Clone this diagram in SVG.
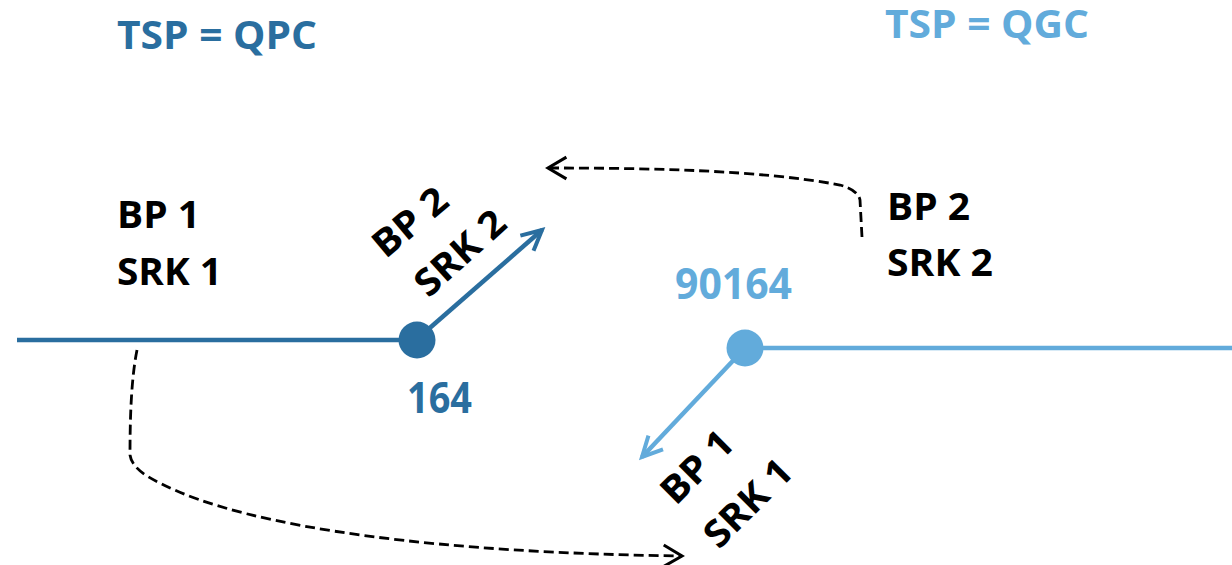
<svg xmlns="http://www.w3.org/2000/svg" width="1232" height="565" viewBox="0 0 1232 565">
<style>
.t{font-family:"Open Sans","Liberation Sans",sans-serif;font-weight:bold}
.blk{fill:#000;font-size:37.5px}
.dk{fill:#2A6E9F}
.lt{fill:#62ABDB}
.dash{fill:none;stroke:#000;stroke-width:2.8;stroke-dasharray:10 5}
</style>
<defs>
<marker id="hd" markerUnits="userSpaceOnUse" markerWidth="30" markerHeight="30" refX="24" refY="12" orient="auto" viewBox="0 0 30 24">
<polyline points="4,2 24,12 4,22" fill="none" stroke="#2A6E9F" stroke-width="4"/>
</marker>
<marker id="hl" markerUnits="userSpaceOnUse" markerWidth="30" markerHeight="30" refX="24" refY="12" orient="auto" viewBox="0 0 30 24">
<polyline points="4,2 24,12 4,22" fill="none" stroke="#62ABDB" stroke-width="4"/>
</marker>
<marker id="hb" markerUnits="userSpaceOnUse" markerWidth="26" markerHeight="26" refX="20" refY="11" orient="auto" viewBox="0 0 24 22">
<polyline points="3,1 20,11 3,21" fill="none" stroke="#000" stroke-width="2.8"/>
</marker>
</defs>
<g id="connectors">
<line x1="17" y1="340" x2="416" y2="340" stroke="#2A6E9F" stroke-width="4.5"/>
<line x1="745" y1="348" x2="1232" y2="348" stroke="#62ABDB" stroke-width="4.5"/>
<line x1="416" y1="340" x2="542" y2="230" stroke="#2A6E9F" stroke-width="4.5" marker-end="url(#hd)"/>
<line x1="745" y1="348" x2="642" y2="457" stroke="#62ABDB" stroke-width="4.5" marker-end="url(#hl)"/>
<path class="dash" d="M862,237 L860,200 Q858,190 840,185 C760,170 650,168 548,168" marker-end="url(#hb)"/>
<path class="dash" d="M137,350 C131,380 130,420 130,455 Q132,470 160,483 C250,530 450,553 682,556" marker-end="url(#hb)"/>
</g>
<g id="title-qpc"><text class="t dk" x="117" y="49" font-size="39" textLength="200" lengthAdjust="spacingAndGlyphs">TSP = QPC</text></g>
<g id="title-qgc"><text class="t lt" x="885" y="38" font-size="39" textLength="204" lengthAdjust="spacingAndGlyphs">TSP = QGC</text></g>
<g id="node-164">
<circle cx="417" cy="340" r="18.5" fill="#2A6E9F"/>
<text class="t dk" x="407" y="413" font-size="43" textLength="65" lengthAdjust="spacingAndGlyphs">164</text>
</g>
<g id="node-90164">
<circle cx="745" cy="348" r="18.5" fill="#62ABDB"/>
<text class="t lt" x="675" y="299" font-size="43" textLength="117" lengthAdjust="spacingAndGlyphs">90164</text>
</g>
<g id="label-left">
<text class="t blk" x="117" y="228" textLength="83" lengthAdjust="spacingAndGlyphs">BP 1</text>
<text class="t blk" x="117" y="285" textLength="105" lengthAdjust="spacingAndGlyphs">SRK 1</text>
</g>
<g id="label-right">
<text class="t blk" x="887" y="220" textLength="83" lengthAdjust="spacingAndGlyphs">BP 2</text>
<text class="t blk" x="887" y="276" textLength="106" lengthAdjust="spacingAndGlyphs">SRK 2</text>
</g>
<g id="label-rot-dark">
<text class="t blk" text-anchor="middle" transform="translate(410,222) rotate(-40)" y="13" textLength="86" lengthAdjust="spacingAndGlyphs">BP 2</text>
<text class="t blk" text-anchor="middle" transform="translate(460,253) rotate(-42)" y="13" textLength="108" lengthAdjust="spacingAndGlyphs">SRK 2</text>
</g>
<g id="label-rot-light">
<text class="t blk" text-anchor="middle" transform="translate(697,467) rotate(-45)" y="13" textLength="86" lengthAdjust="spacingAndGlyphs">BP 1</text>
<text class="t blk" text-anchor="middle" transform="translate(748,503) rotate(-45)" y="13" textLength="108" lengthAdjust="spacingAndGlyphs">SRK 1</text>
</g>
</svg>
